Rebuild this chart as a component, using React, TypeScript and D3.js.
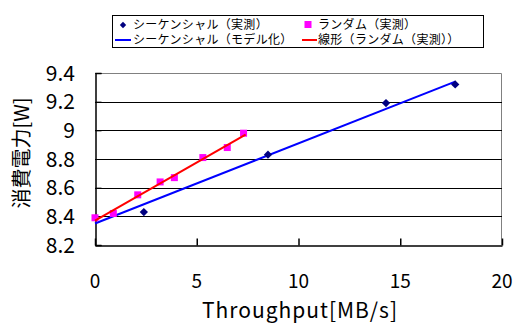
import React, { useRef, useEffect } from 'react';
import * as d3 from 'd3';

const seqX = [2.4, 8.5, 14.3, 17.7];
const seqY = [8.43, 8.83, 9.19, 9.32];
const randX = [0, 0.9, 2.1, 3.2, 3.9, 5.3, 6.5, 7.3];
const randY = [8.39, 8.42, 8.55, 8.64, 8.67, 8.81, 8.88, 8.98];
// model line (sequential) and linear fit (random)
const modelX = [0, 17.7];
const modelY = [8.35, 9.34];
const fitX = [0, 7.4];
const fitY = [8.37, 8.97];

const xTicks = [0, 5, 10, 15, 20];
const yTicks = [8.2, 8.4, 8.6, 8.8, 9, 9.2, 9.4];

const legendLabels = [
  'シーケンシャル（実測）',
  'ランダム（実測）',
  'シーケンシャル（モデル化）',
  '線形（ランダム（実測））',
];

const FONT = '"Noto Sans CJK JP", "Noto Sans", sans-serif';

const App = () => {
  const ref = useRef<SVGSVGElement | null>(null);

  useEffect(() => {
    if (!ref.current) return;
    const svg = d3.select(ref.current);
    svg.selectAll('*').remove();

    const left = 95, right = 502, top = 73, bottom = 245;

    const x = d3.scaleLinear().domain([0, 20]).range([left, right]);
    const y = d3.scaleLinear().domain([8.2, 9.4]).range([bottom, top]);

    svg.append('rect')
      .attr('width', 518).attr('height', 327).attr('fill', '#fff');

    // plot border (grey) on top and right
    svg.append('path')
      .attr('d', `M${left},${top + 0.5}H${right - 0.5}V${bottom}`)
      .attr('fill', 'none')
      .attr('stroke', '#808080')
      .attr('stroke-width', 1);

    // gridlines
    svg.append('g')
      .selectAll('line')
      .data(yTicks.filter(d => d > 8.2 && d < 9.4))
      .join('line')
      .attr('x1', left).attr('x2', right)
      .attr('y1', d => Math.round(y(d)) + 0.5)
      .attr('y2', d => Math.round(y(d)) + 0.5)
      .attr('stroke', '#000')
      .attr('stroke-width', 1);

    // axes
    const yAxis = svg.append('g')
      .attr('transform', `translate(${left + 0.5},0)`)
      .call(d3.axisRight(y).tickValues(yTicks).tickSize(6).tickFormat(() => ''));
    yAxis.select('.domain').attr('stroke', '#000').attr('stroke-width', 1.5);

    const xAxis = svg.append('g')
      .attr('transform', `translate(0,${bottom + 0.5})`)
      .call(d3.axisTop(x).tickValues(xTicks).tickSize(7).tickSizeOuter(0).tickFormat(() => ''));
    xAxis.select('.domain').attr('stroke', '#000').attr('stroke-width', 1.5);
    xAxis.selectAll('.tick line').attr('stroke-width', 1.5);

    // tick labels
    svg.append('g')
      .selectAll('text')
      .data(yTicks)
      .join('text')
      .attr('x', 75)
      .attr('y', d => y(d))
      .attr('dy', '0.36em')
      .attr('text-anchor', 'end')
      .attr('font-family', FONT)
      .attr('font-size', 21)
      .text(d => d3.format('~g')(d));

    svg.append('g')
      .selectAll('text')
      .data(xTicks)
      .join('text')
      .attr('x', d => x(d))
      .attr('y', 288)
      .attr('text-anchor', 'middle')
      .attr('font-family', FONT)
      .attr('font-size', 19)
      .text(d => d);

    // axis titles
    svg.append('text')
      .attr('x', 300)
      .attr('y', 318)
      .attr('text-anchor', 'middle')
      .attr('font-family', FONT)
      .attr('font-size', 21)
      .attr('letter-spacing', 1)
      .text('Throughput[MB/s]');

    svg.append('text')
      .attr('transform', 'translate(29,153) rotate(-90)')
      .attr('text-anchor', 'middle')
      .attr('font-family', FONT)
      .attr('font-size', 20)
      .text('消費電力[W]');

    // lines
    const line = d3.line<[number, number]>()
      .x(d => x(d[0]))
      .y(d => y(d[1]));

    svg.append('path')
      .datum(modelX.map((v, i) => [v, modelY[i]] as [number, number]))
      .attr('fill', 'none')
      .attr('stroke', '#0000ff')
      .attr('stroke-width', 2)
      .attr('d', line);

    // markers
    svg.append('g')
      .selectAll('path')
      .data(seqX.map((v, i) => [v, seqY[i]]))
      .join('path')
      .attr('d', d3.symbol(d3.symbolDiamond2, 44))
      .attr('transform', d => `translate(${x(d[0])},${y(d[1])})`)
      .attr('fill', '#000080');

    svg.append('g')
      .selectAll('rect')
      .data(randX.map((v, i) => [v, randY[i]]))
      .join('rect')
      .attr('x', d => x(d[0]) - 3.5)
      .attr('y', d => y(d[1]) - 3.5)
      .attr('width', 7)
      .attr('height', 7)
      .attr('fill', '#ff00ff');

    svg.append('path')
      .datum(fitX.map((v, i) => [v, fitY[i]] as [number, number]))
      .attr('fill', 'none')
      .attr('stroke', '#ff0000')
      .attr('stroke-width', 2)
      .attr('d', line);

    // legend
    const lg = svg.append('g');
    lg.append('rect')
      .attr('x', 112.5).attr('y', 15.5)
      .attr('width', 371).attr('height', 32)
      .attr('fill', '#fff')
      .attr('stroke', '#000');

    const rows = [
      { tx: 133, cy: 24.5, label: legendLabels[0] },
      { tx: 318, cy: 24.5, label: legendLabels[1] },
      { tx: 133, cy: 40, label: legendLabels[2] },
      { tx: 318, cy: 40, label: legendLabels[3] },
    ];
    lg.selectAll('text')
      .data(rows)
      .join('text')
      .attr('x', d => d.tx)
      .attr('y', d => d.cy)
      .attr('dy', '0.36em')
      .attr('font-family', FONT)
      .attr('font-size', 12)
      .attr('letter-spacing', 0.3)
      .text(d => d.label);

    lg.append('path')
      .attr('d', d3.symbol(d3.symbolDiamond2, 26))
      .attr('transform', 'translate(123,25)')
      .attr('fill', '#000080');
    lg.append('rect')
      .attr('x', 304.5).attr('y', 21).attr('width', 7).attr('height', 7)
      .attr('fill', '#ff00ff');
    lg.append('line')
      .attr('x1', 115).attr('x2', 131).attr('y1', 40).attr('y2', 40)
      .attr('stroke', '#0000ff').attr('stroke-width', 2);
    lg.append('line')
      .attr('x1', 302).attr('x2', 317).attr('y1', 40).attr('y2', 40)
      .attr('stroke', '#ff0000').attr('stroke-width', 2);
  }, []);

  return (
    <svg
      ref={ref}
      width={518}
      height={327}
      style={{ position: 'absolute', left: 0, top: 0 }}
    />
  );
};

export default App;
